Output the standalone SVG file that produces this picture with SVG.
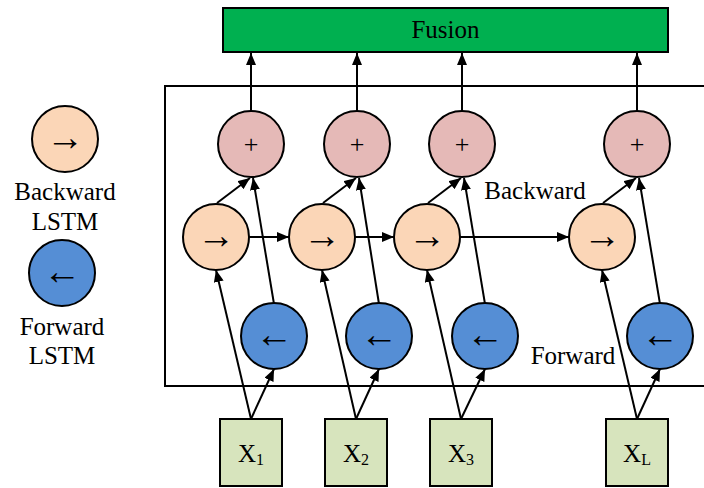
<svg xmlns="http://www.w3.org/2000/svg" width="704" height="488" viewBox="0 0 704 488" font-family="'Liberation Serif', 'Times New Roman', serif">
<style>
text{font-family:'Liberation Serif','Times New Roman',serif;fill:#000}
.lbl{font-size:25px;text-anchor:middle}
.sym{font-size:38px;text-anchor:middle}
.pl{font-size:26px;text-anchor:middle}
.bw{fill:#FBD6B7;stroke:#000;stroke-width:2}
.fw{fill:#558ED5;stroke:#000;stroke-width:2}
.sum{fill:#E5B9B7;stroke:#000;stroke-width:2}
.xin{fill:#D7E4BD;stroke:#000;stroke-width:2}
.cn{stroke:#000;stroke-width:2;fill:none;marker-end:url(#ah)}
</style>
<defs>
<marker id="ah" viewBox="0 0 12 10" refX="12" refY="5" markerWidth="12" markerHeight="10" markerUnits="userSpaceOnUse" orient="auto">
<path d="M0,0 L12,5 L0,10 z" fill="#000"/>
</marker>
</defs>
<rect x="0" y="0" width="704" height="488" fill="#fff"/>
<g id="frame"><rect x="165" y="86" width="545" height="300" fill="none" stroke="#000" stroke-width="2"/></g>
<g id="fusion"><rect x="223" y="8" width="445" height="44" fill="#00B050" stroke="#000" stroke-width="2"/><text class="lbl" x="445.5" y="38">Fusion</text></g>

<g id="legend">
<g id="leg-bw"><circle class="bw" cx="65" cy="139" r="33"/><text class="sym" x="65" y="150">→</text></g>
<text class="lbl" x="65" y="200">Backward</text>
<text class="lbl" x="65" y="230">LSTM</text>
<g id="leg-fw"><circle class="fw" cx="62" cy="273" r="33"/><text class="sym" x="62" y="284">←</text></g>
<text class="lbl" x="62" y="335">Forward</text>
<text class="lbl" x="62" y="364">LSTM</text>
</g>

<text class="lbl" x="535" y="199">Backward</text>
<text class="lbl" x="573" y="364">Forward</text>

<g id="connectors">
<line class="cn" x1="251" y1="111" x2="251" y2="53"/>
<line class="cn" x1="357" y1="111" x2="357" y2="53"/>
<line class="cn" x1="462" y1="111" x2="462" y2="53"/>
<line class="cn" x1="637" y1="111" x2="637" y2="53"/>

<line class="cn" x1="217" y1="203" x2="250" y2="178"/>
<line class="cn" x1="323" y1="203" x2="356" y2="178"/>
<line class="cn" x1="428" y1="203" x2="461" y2="178"/>
<line class="cn" x1="603" y1="203" x2="636" y2="178"/>

<line class="cn" x1="274" y1="304" x2="253" y2="178"/>
<line class="cn" x1="379" y1="304" x2="359" y2="178"/>
<line class="cn" x1="485" y1="304" x2="464" y2="178"/>
<line class="cn" x1="660" y1="304" x2="639" y2="178"/>

<line class="cn" x1="249" y1="237" x2="289" y2="237"/>
<line class="cn" x1="355" y1="237" x2="394" y2="237"/>
<line class="cn" x1="460" y1="237" x2="569" y2="237"/>

<line class="cn" x1="251" y1="419" x2="216" y2="270"/>
<line class="cn" x1="251" y1="419" x2="274" y2="369"/>
<line class="cn" x1="356" y1="419" x2="322" y2="270"/>
<line class="cn" x1="356" y1="419" x2="379" y2="369"/>
<line class="cn" x1="461" y1="419" x2="427" y2="270"/>
<line class="cn" x1="461" y1="419" x2="485" y2="369"/>
<line class="cn" x1="637" y1="419" x2="602" y2="270"/>
<line class="cn" x1="637" y1="419" x2="660" y2="369"/>
</g>

<g id="sum1"><circle class="sum" cx="251" cy="144" r="33"/><text class="pl" x="251" y="153">+</text></g>
<g id="sum2"><circle class="sum" cx="357" cy="144" r="33"/><text class="pl" x="357" y="153">+</text></g>
<g id="sum3"><circle class="sum" cx="462" cy="144" r="33"/><text class="pl" x="462" y="153">+</text></g>
<g id="sum4"><circle class="sum" cx="637" cy="144" r="33"/><text class="pl" x="637" y="153">+</text></g>

<g id="bw1"><circle class="bw" cx="216" cy="237" r="33"/><text class="sym" x="216" y="248">→</text></g>
<g id="bw2"><circle class="bw" cx="322" cy="237" r="33"/><text class="sym" x="322" y="248">→</text></g>
<g id="bw3"><circle class="bw" cx="427" cy="237" r="33"/><text class="sym" x="427" y="248">→</text></g>
<g id="bw4"><circle class="bw" cx="602" cy="237" r="33"/><text class="sym" x="602" y="248">→</text></g>

<g id="fw1"><circle class="fw" cx="274" cy="336" r="33"/><text class="sym" x="274" y="347">←</text></g>
<g id="fw2"><circle class="fw" cx="379" cy="336" r="33"/><text class="sym" x="379" y="347">←</text></g>
<g id="fw3"><circle class="fw" cx="485" cy="336" r="33"/><text class="sym" x="485" y="347">←</text></g>
<g id="fw4"><circle class="fw" cx="660" cy="336" r="33"/><text class="sym" x="660" y="347">←</text></g>

<g id="x1"><rect class="xin" x="220" y="419" width="62" height="67"/><text class="lbl" x="251" y="462" font-size="25">X<tspan font-size="16" dy="3">1</tspan></text></g>
<g id="x2"><rect class="xin" x="325" y="419" width="62" height="67"/><text class="lbl" x="356" y="462" font-size="25">X<tspan font-size="16" dy="3">2</tspan></text></g>
<g id="x3"><rect class="xin" x="430" y="419" width="62" height="67"/><text class="lbl" x="461" y="462" font-size="25">X<tspan font-size="16" dy="3">3</tspan></text></g>
<g id="xL"><rect class="xin" x="606" y="419" width="62" height="67"/><text class="lbl" x="637" y="462" font-size="25">X<tspan font-size="16" dy="3">L</tspan></text></g>
</svg>
